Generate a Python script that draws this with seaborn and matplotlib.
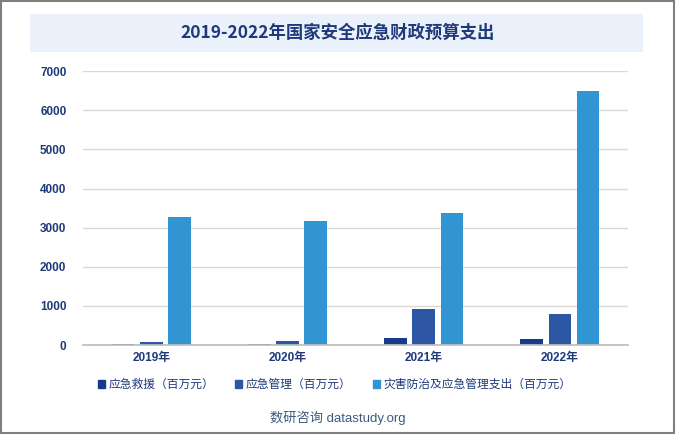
import matplotlib.pyplot as plt
import matplotlib.patches as mpatches
import pandas as pd
import seaborn as sns

years = ["2019年", "2020年", "2021年", "2022年"]
series = ["应急救援（百万元）", "应急管理（百万元）", "灾害防治及应急管理支出（百万元）"]
rescue = [30, 30, 180, 155]
management = [80, 110, 920, 790]
disaster = [3270, 3170, 3375, 6490]
colors = ["#183A8A", "#2D56A5", "#3194D3"]

df = pd.DataFrame({"year": years * 3,
                   "series": [s for s in series for _ in years],
                   "value": rescue + management + disaster})

sns.set_theme(style="white")
plt.rcParams["font.family"] = ["Liberation Sans", "Noto Sans CJK SC", "DejaVu Sans"]

fig = plt.figure(figsize=(6.76, 4.34), dpi=100)
ax = fig.add_axes([0.123, 0.205, 0.806, 0.631])

sns.barplot(df, x="year", y="value", hue="series", palette=colors, saturation=1,
            width=0.62, gap=0.2, linewidth=0, ax=ax, legend=False)

ax.set_ylim(0, 7000)
ax.set_yticks(range(0, 7001, 1000))
ax.yaxis.grid(True, color="#D9D9D9", linewidth=1)
ax.set_axisbelow(True)
for s in ["top", "right", "left"]:
    ax.spines[s].set_visible(False)
ax.spines["bottom"].set_color("#BFBFBF")
ax.set_xlabel("")
ax.set_ylabel("")
ax.tick_params(axis="both", length=0, labelsize=8.5, labelcolor="#1F3A7A", pad=12)
ax.tick_params(axis="x", pad=5)
for lbl in ax.get_xticklabels() + ax.get_yticklabels():
    lbl.set_fontweight("bold")

# outer frame
fig.patches.append(mpatches.Rectangle((0.002, 0.003), 0.995, 0.994, transform=fig.transFigure,
                                      fill=False, edgecolor="#7F7F7F", linewidth=1.5))
# title box
fig.patches.append(mpatches.Rectangle((30 / 676, 1 - 52 / 434), 613 / 676, 38 / 434,
                                      transform=fig.transFigure, facecolor="#EAF1FB",
                                      edgecolor="none"))
fig.text(0.5, 1 - 33 / 434, "2019-2022年国家安全应急财政预算支出", ha="center", va="center",
         fontsize=12.5, fontweight="bold", color="#1F3A7A",
         family=["Noto Sans CJK SC", "DejaVu Sans"])

handles = [mpatches.Patch(color=c, label=s) for c, s in zip(colors, series)]
fig.legend(handles=handles, loc="center", bbox_to_anchor=(0.495, 1 - 385 / 434), ncol=3,
           frameon=False, fontsize=8.5, handlelength=0.6, handleheight=0.6,
           handletextpad=0.3, columnspacing=1.8, labelcolor="#1F3A7A")

fig.text(0.5, 1 - 418 / 434, "数研咨询 datastudy.org", ha="center", va="center",
         fontsize=9.5, color="#3D5A80")

fig.savefig("out.png", dpi=100)
